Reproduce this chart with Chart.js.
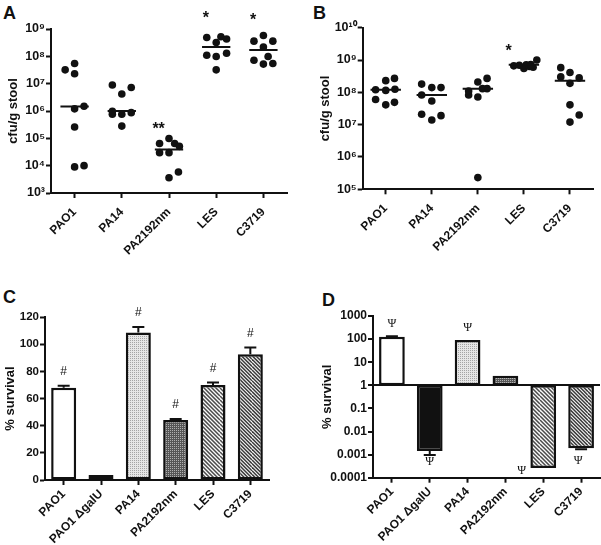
<!DOCTYPE html>
<html><head><meta charset="utf-8">
<script src="https://cdn.jsdelivr.net/npm/chart.js@4"></script>
<style>
html,body{margin:0;padding:0;background:#fff;}
body{width:601px;height:545px;position:relative;overflow:hidden;}
canvas{position:absolute;}
.lt{position:absolute;font:bold 18px 'Liberation Sans',Arial,sans-serif;line-height:18px;color:#111;}
</style></head><body>
<div class="lt" style="left:3px;top:3.5px">A</div>
<div class="lt" style="left:313px;top:3.5px">B</div>
<div class="lt" style="left:3px;top:287.5px">C</div>
<div class="lt" style="left:322px;top:290.5px">D</div>
<canvas id="cA" width="300" height="280" style="left:0;top:0"></canvas>
<canvas id="cB" width="301" height="280" style="left:300px;top:0"></canvas>
<canvas id="cC" width="300" height="265" style="left:0;top:280px"></canvas>
<canvas id="cD" width="301" height="265" style="left:300px;top:280px"></canvas>
<script>
// ---------- data ----------
const catsAB = ['PAO1', 'PA14', 'PA2192nm', 'LES', 'C3719'];
const catsCD = ['PAO1', 'PAO1 ΔgalU', 'PA14', 'PA2192nm', 'LES', 'C3719'];
const tickExpA = [3, 4, 5, 6, 7, 8, 9];
const tickExpB = [5, 6, 7, 8, 9, 10];
const ticksC = [0, 20, 40, 60, 80, 100, 120];
const tickExpD = [-4, -3, -2, -1, 0, 1, 2, 3];

// Panel A: cfu/g stool per mouse (one list per strain) and horizontal jitter (category units)
const cfuA = [
  [3.2e7, 5.5e7, 2.3e7, 1.2e6, 1.5e6, 2.6e5, 9.0e3, 1.0e4],
  [8.9e6, 7.2e6, 4.2e6, 9.8e5, 7.6e5, 7.6e5, 8.7e5, 2.8e5],
  [9.8e4, 6.5e4, 6.5e4, 5.1e4, 3.0e4, 3.0e4, 5.9e3, 3.6e3],
  [4.9e8, 5.2e8, 3.2e8, 4.3e8, 1.1e8, 9.8e7, 1.3e8, 3.2e7],
  [3.6e8, 5.8e8, 3.6e8, 2.2e8, 7.2e7, 9.8e7, 5.2e7, 5.5e7]
];
const jitA = [
  [-0.2, 0, 0, 0, 0.2, 0, 0, 0.2],
  [-0.2, 0.2, 0, -0.2, -0.2, 0, 0.2, 0],
  [0, -0.2, 0.12, 0.22, -0.2, 0, 0.2, 0],
  [-0.2, 0.1, 0, 0.22, -0.2, 0, 0.22, 0],
  [-0.2, 0, 0.2, 0, -0.2, 0.1, 0, 0.2]
];
const medA = [1.45e6, 1.0e6, 3.9e4, 2.2e8, 1.7e8];
const sigA = ['', '', '**', '*', '*'];
const sigAY = [null, null, 2.8e5, 3.2e9, 2.8e9];

// Panel B
const cfuB = [
  [2.3e8, 2.7e8, 1.2e8, 1.15e8, 1.25e8, 6.0e7, 4.1e7, 4.9e7],
  [1.8e8, 1.4e8, 1.4e8, 8.3e7, 5.4e7, 2.1e7, 1.4e7, 1.9e7],
  [2.1e8, 2.7e8, 8.3e7, 7.2e7, 1.3e8, 1.1e8, 2.3e5, 1.3e8],
  [6.6e8, 6.9e8, 5.5e8, 7.1e8, 6.3e8, 6.0e8, 1.0e9, 7.2e8],
  [5.8e8, 4.1e8, 3.0e8, 2.8e8, 1.9e8, 4.1e7, 2.0e7, 1.2e7]
];
const jitB = [
  [0, 0.19, -0.22, 0, 0.2, -0.22, 0, 0.19],
  [-0.22, 0, 0.2, -0.22, 0, -0.22, 0, 0.2],
  [0, 0.2, -0.2, 0, 0.2, -0.2, 0, 0.1],
  [-0.22, -0.1, 0, 0.05, 0.12, 0.2, 0.28, 0.15],
  [-0.2, 0, -0.2, 0.2, 0, 0, 0.2, 0]
];
const medB = [1.2e8, 8.3e7, 1.3e8, 7.2e8, 2.3e8];
const sigB = ['', '', '', '*', ''];
const sigBY = [null, null, null, 2.3e9, null];

// Panel C: % survival, SEM
const survC = [68, 3.7, 108.6, 44.1, 70, 92.6];
const errC = [1.3, 0, 4, 0.8, 1.8, 5];
const sigC = ['#', '', '#', '#', '#', '#'];

// Panel D: % survival (log), error bar end values
const survD = [126, 0.00144, 91, 2.6, 0.00026, 0.0019];
const errEndD = [132, 0.00096, null, null, null, 0.0017];
const sigD = ['Ψ', 'Ψ', 'Ψ', '', 'Ψ', 'Ψ'];

// ---------- style ----------
const FONT = "'Liberation Sans', Arial, sans-serif";
const INK = '#111';
const SUP = '⁰¹²³⁴⁵⁶⁷⁸⁹';
const sup = n => String(n).split('').map(d => SUP[+d]).join('');

function makePattern(kind) {
  const c = document.createElement('canvas');
  const x = c.getContext('2d');
  if (kind === 'light' || kind === 'dark') {
    c.width = 2; c.height = 2;
    x.fillStyle = kind === 'light' ? '#e6e6e6' : '#565656';
    x.fillRect(0, 0, 2, 2);
    x.fillStyle = kind === 'light' ? '#a4a4a4' : '#b0b0b0';
    x.fillRect(0, 0, 1, 1);
  } else {
    const p = kind === 'hatch' ? 4 : 3.6;
    c.width = Math.round(p * 5); c.height = c.width;
    const s = c.width;
    x.fillStyle = '#fafafa'; x.fillRect(0, 0, s, s);
    x.strokeStyle = kind === 'hatch' ? '#4a4a4a' : '#3a3a3a';
    x.lineWidth = 1.5;
    for (let k = -s; k <= s; k += s / 5) {
      x.beginPath(); x.moveTo(0, k); x.lineTo(s, s + k); x.stroke();
    }
  }
  return x.createPattern(c, 'repeat');
}
const fillsCD = ['#ffffff', '#111111', makePattern('light'), makePattern('dark'), makePattern('hatch'), makePattern('hatch2')];

function xCat(labels, height, pad) {
  return {
    type: 'category', labels, offset: true, position: 'bottom',
    border: {display: true, color: INK, width: 2},
    grid: {display: true, drawOnChartArea: false, drawTicks: true, tickLength: 5, tickWidth: 2, tickColor: INK, offset: false},
    ticks: {autoSkip: false, minRotation: 45, maxRotation: 45, color: INK, padding: pad,
            font: {family: FONT, size: 12, weight: 'bold'}},
    afterFit: s => { s.height = height; }
  };
}
function yBase(width, size, titleText, titlePad) {
  return {
    position: 'left',
    border: {display: true, color: INK, width: 2},
    grid: {display: true, drawOnChartArea: false, drawTicks: true, tickLength: 5, tickWidth: 2, tickColor: INK},
    ticks: {color: INK, padding: 1, autoSkip: false, font: {family: FONT, size, weight: 'bold'}},
    title: {display: true, text: titleText, color: INK, font: {family: FONT, size: 13, weight: 'bold'},
            padding: {top: titlePad, bottom: 0}},
    afterFit: s => { s.width = width; }
  };
}
const common = {animation: false, responsive: false, devicePixelRatio: 1, events: [],
  plugins: {legend: {display: false}, tooltip: {enabled: false}}};

function dotPanel(id, cfu, jit, med, tickExp, sig, sigY, L) {
  const pts = cfu.flatMap((g, i) => g.map((v, k) => ({x: i + jit[i][k], y: v})));
  const medPts = med.flatMap((m, i) => [{x: i - L.half, y: m}, {x: i + L.half, y: m}, {x: i + 0.5, y: null}]);
  const y = yBase(L.yw, 12.5, 'cfu/g stool', L.tpad);
  Object.assign(y, {type: 'logarithmic', min: 10 ** tickExp[0], max: 10 ** tickExp[tickExp.length - 1],
    afterBuildTicks: s => { s.ticks = tickExp.map(e => ({value: 10 ** e})); }});
  y.ticks.callback = v => '10' + sup(Math.round(Math.log10(v)));
  new Chart(document.getElementById(id), {
    type: 'scatter',
    data: {datasets: [
      {type: 'line', data: medPts, xAxisID: 'xl', borderColor: INK, borderWidth: 2, pointRadius: 0, spanGaps: false, showLine: true},
      {data: pts, xAxisID: 'xl', backgroundColor: INK, borderWidth: 0, pointRadius: 3.8}
    ]},
    options: Object.assign({}, common, {
      layout: {padding: {top: L.top, right: L.right, left: 0, bottom: 0}},
      scales: {
        x: xCat(catsAB, L.xh, 7),
        xl: {type: 'linear', display: false, min: -0.5, max: catsAB.length - 0.5},
        y
      }
    }),
    plugins: [{id: 'sig', afterDraw(chart) {
      const ctx = chart.ctx, xs = chart.scales.xl, ys = chart.scales.y;
      ctx.save(); ctx.fillStyle = INK; ctx.font = 'bold 16px ' + FONT;
      ctx.textAlign = 'center'; ctx.textBaseline = 'middle';
      sig.forEach((t, i) => { if (t) ctx.fillText(t, xs.getPixelForValue(i + L.shift), ys.getPixelForValue(sigY[i]) + 3.7); });
      ctx.restore();
    }}]
  });
}

dotPanel('cA', cfuA, jitA, medA, tickExpA, sigA, sigAY, {yw: 51, tpad: 5.2, top: 29, right: 13, xh: 87, half: 0.3, shift: -0.22});
dotPanel('cB', cfuB, jitB, medB, tickExpB, sigB, sigBY, {yw: 62.7, tpad: 17.2, top: 27.7, right: 8, xh: 90.7, half: 0.33, shift: -0.33});

// ---------- Panel C ----------
(function () {
  const y = yBase(45, 11.5, '% survival', 2.2);
  Object.assign(y, {min: ticksC[0], max: ticksC[ticksC.length - 1],
    afterBuildTicks: s => { s.ticks = ticksC.map(v => ({value: v})); }});
  const x = xCat(catsCD, 65, 2);
  new Chart(document.getElementById('cC'), {
    type: 'bar',
    data: {labels: catsCD, datasets: [{data: survC, backgroundColor: fillsCD, borderColor: INK, borderWidth: 2.5,
      borderSkipped: false, barPercentage: 0.67, categoryPercentage: 1}]},
    options: Object.assign({}, common, {
      layout: {padding: {top: 37, right: 31, left: 0, bottom: 0}},
      scales: {x, y}
    }),
    plugins: [{id: 'errC', afterDatasetsDraw(chart) {
      const ctx = chart.ctx, ys = chart.scales.y, meta = chart.getDatasetMeta(0);
      ctx.save(); ctx.strokeStyle = INK; ctx.lineWidth = 2; ctx.fillStyle = INK;
      ctx.font = '12px ' + FONT; ctx.textAlign = 'center'; ctx.textBaseline = 'middle';
      meta.data.forEach((bar, i) => {
        const top = ys.getPixelForValue(survC[i]);
        const end = ys.getPixelForValue(survC[i] + errC[i]);
        if (errC[i] > 0) {
          ctx.beginPath(); ctx.moveTo(bar.x, top); ctx.lineTo(bar.x, end);
          ctx.moveTo(bar.x - 6, end); ctx.lineTo(bar.x + 6, end); ctx.stroke();
        }
        if (sigC[i]) ctx.fillText(sigC[i], bar.x, end - 14);
      });
      ctx.restore();
    }}]
  });
})();

// ---------- Panel D ----------
(function () {
  const y = yBase(73, 12, '% survival', 20);
  Object.assign(y, {type: 'logarithmic', min: 10 ** tickExpD[0], max: 10 ** tickExpD[tickExpD.length - 1],
    afterBuildTicks: s => { s.ticks = tickExpD.map(e => ({value: 10 ** e})); }});
  y.ticks.callback = v => { const e = Math.round(Math.log10(v)); return e >= 0 ? String(10 ** e) : (10 ** e).toFixed(-e); };
  y.grid = Object.assign({}, y.grid, {drawOnChartArea: true, lineWidth: 2,
    color: c => (c.tick && Math.abs(c.tick.value - 1) < 1e-9) ? INK : 'rgba(0,0,0,0)'});
  const x = xCat(catsCD, 67.3, 2);
  const psiDx = [0, 0, 0, 0, -0.57, -0.08];
  const psiDy = [-12, 7, -12, 0, 2.5, 12];
  new Chart(document.getElementById('cD'), {
    type: 'bar',
    data: {labels: catsCD, datasets: [{data: survD.map(v => [1, v]), backgroundColor: fillsCD, borderColor: INK, borderWidth: 2.5,
      borderSkipped: false, barPercentage: 0.68, categoryPercentage: 1}]},
    options: Object.assign({}, common, {
      layout: {padding: {top: 36, right: 1, left: 0, bottom: 0}},
      scales: {x, y}
    }),
    plugins: [{id: 'errD', afterDatasetsDraw(chart) {
      const ctx = chart.ctx, ys = chart.scales.y, xs = chart.scales.x, meta = chart.getDatasetMeta(0);
      const step = xs.getPixelForValue(1) - xs.getPixelForValue(0);
      ctx.save(); ctx.strokeStyle = INK; ctx.lineWidth = 2; ctx.fillStyle = INK;
      ctx.font = '12px "Liberation Serif", "Times New Roman", serif'; ctx.textAlign = 'center'; ctx.textBaseline = 'middle';
      meta.data.forEach((bar, i) => {
        const tip = ys.getPixelForValue(survD[i]);
        let ext = tip;
        if (errEndD[i] !== null) {
          ext = ys.getPixelForValue(errEndD[i]);
          ctx.beginPath(); ctx.moveTo(bar.x, tip); ctx.lineTo(bar.x, ext);
          ctx.moveTo(bar.x - 6, ext); ctx.lineTo(bar.x + 6, ext); ctx.stroke();
        }
        if (sigD[i]) ctx.fillText(sigD[i], bar.x + psiDx[i] * step, ext + psiDy[i]);
      });
      ctx.restore();
    }}]
  });
})();
</script>
</body></html>
